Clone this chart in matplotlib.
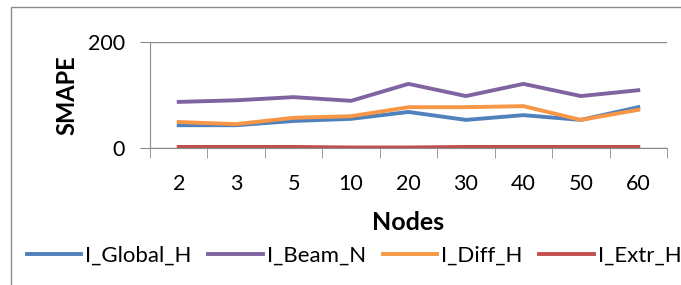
import matplotlib.pyplot as plt
from matplotlib.patches import Rectangle

nodes = ['2', '3', '5', '10', '20', '30', '40', '50', '60']
global_h = [43, 43, 51, 55, 68, 53, 62, 53, 77]
beam_n = [87, 90, 96, 89, 121, 98, 121, 98, 109]
diff_h = [49, 45, 57, 60, 77, 77, 79, 53, 72]
extr_h = [2, 2, 2, 1, 1, 2, 2, 2, 2]

series = [
    ('I_Global_H', global_h, '#4F81BD'),
    ('I_Beam_N', beam_n, '#8064A2'),
    ('I_Diff_H', diff_h, '#F79646'),
    ('I_Extr_H', extr_h, '#C0504D'),
]

plt.rcParams['font.family'] = ['Lato', 'DejaVu Sans']

fig = plt.figure(figsize=(6.81, 2.85), dpi=100)
fig.patches.append(Rectangle((11 / 681, -0.1), 1.0, 1 - 7 / 285 + 0.1,
                             transform=fig.transFigure, fill=False,
                             edgecolor='#8c8c8c', linewidth=1.0))
ax = fig.add_axes([150 / 681, 1 - 148 / 285, (667 - 150) / 681, (148 - 42) / 285])

x = list(range(len(nodes)))
for name, vals, color in series:
    ax.plot(x, vals, color=color, linewidth=2.8, label=name)

ax.set_xlim(-0.5, len(nodes) - 0.5)
ax.set_ylim(0, 200)
ax.set_yticks([0, 200])
ax.set_xticks(x)
ax.set_xticklabels(nodes)
ax.set_xticks([i - 0.5 for i in range(len(nodes) + 1)], minor=True)
ax.tick_params(axis='x', which='major', length=0, pad=19, labelsize=15.5)
ax.tick_params(axis='x', which='minor', length=7, color='#8c8c8c', direction='out')
ax.tick_params(axis='y', length=7, color='#8c8c8c', labelsize=15.5, pad=11)
ax.yaxis.grid(True, color='#8c8c8c', linewidth=1.0)
ax.set_axisbelow(True)
for side in ['top', 'right']:
    ax.spines[side].set_visible(False)
for side in ['left', 'bottom']:
    ax.spines[side].set_color('#8c8c8c')

ax.set_ylabel('SMAPE', fontsize=17, fontweight='bold', labelpad=7)
ax.set_xlabel('Nodes', fontsize=18, fontweight='bold', labelpad=12)

fig.legend(loc='center', bbox_to_anchor=(354 / 681, 1 - 256 / 285), ncol=4,
           frameon=False, fontsize=16, handlelength=2.45, handletextpad=0.18,
           columnspacing=0.75, borderpad=0, borderaxespad=0)

fig.savefig('out.png', dpi=100)
